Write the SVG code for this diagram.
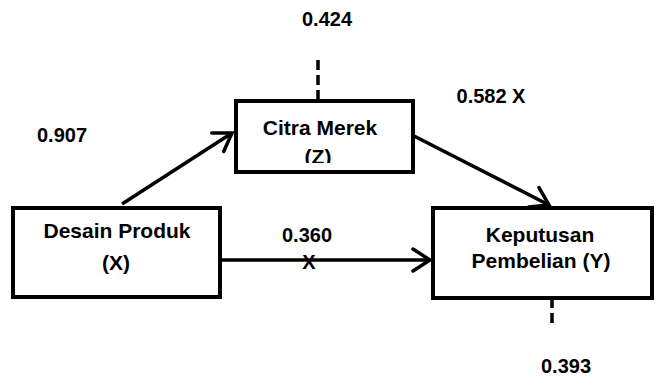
<svg xmlns="http://www.w3.org/2000/svg" width="655" height="379" viewBox="0 0 655 379">
<style>
.box{fill:#fff;stroke:#000;stroke-width:4}
.t{font-family:"Liberation Sans",Arial,sans-serif;font-weight:bold;font-size:21px;fill:#000;text-anchor:middle}
.n{font-size:20px}
.c{stroke:#000;stroke-width:3.5;fill:none}
.d{stroke:#000;stroke-width:3.5;fill:none;stroke-dasharray:10 5}
</style>
<defs>
<marker id="ah" markerUnits="userSpaceOnUse" viewBox="-22 -14 26 28" markerWidth="26" markerHeight="28" refX="0" refY="0" orient="auto">
<path d="M-17,-11 L0,0 L-17,11" stroke="#000" stroke-width="3.5" fill="none" stroke-linecap="round"/>
</marker>
<clipPath id="cz"><rect x="236" y="101" width="177" height="62"/></clipPath>
</defs>
<g id="connectors">
<line class="c" x1="122" y1="204" x2="232" y2="133" marker-end="url(#ah)"/>
<line class="c" x1="414" y1="136" x2="549" y2="205" marker-end="url(#ah)"/>
<line class="c" x1="220" y1="260" x2="430" y2="260" marker-end="url(#ah)"/>
<line class="d" x1="318" y1="60" x2="318" y2="100"/>
<line class="d" x1="552" y1="298" x2="552" y2="324"/>
</g>
<g id="node-z">
<rect class="box" x="236" y="101" width="177" height="71"/>
<text class="t" x="320" y="135">Citra Merek</text>
<text class="t" x="318" y="164" clip-path="url(#cz)">(Z)</text>
</g>
<g id="node-x">
<rect class="box" x="13" y="208" width="207" height="89"/>
<text class="t" x="117" y="238">Desain Produk</text>
<text class="t" x="116" y="270">(X)</text>
</g>
<g id="node-y">
<rect class="box" x="433" y="208" width="219" height="90"/>
<text class="t" x="540" y="242">Keputusan</text>
<text class="t" x="541" y="268">Pembelian (Y)</text>
</g>
<g id="labels">
<text class="t n" x="327" y="26">0.424</text>
<text class="t n" x="491" y="103">0.582 X</text>
<text class="t n" x="62" y="142">0.907</text>
<text class="t n" x="307" y="242">0.360</text>
<text class="t n" x="309" y="269">X</text>
<text class="t n" x="566" y="373">0.393</text>
</g>
</svg>
